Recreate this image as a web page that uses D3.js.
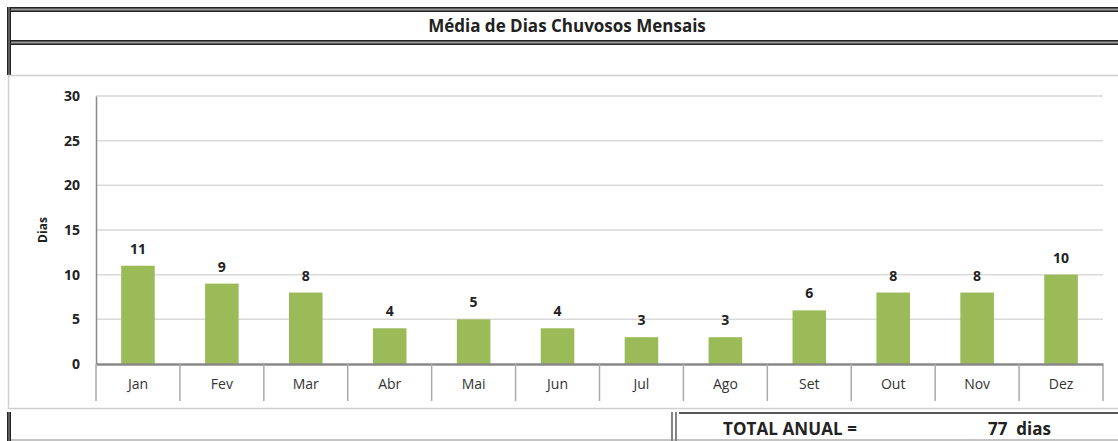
<!DOCTYPE html>
<html>
<head>
<meta charset="utf-8">
<script src="https://cdn.jsdelivr.net/npm/d3@7"></script>
<style>
  body { margin: 0; background: #fff; }
  text { font-family: "Open Sans", "Liberation Sans", sans-serif; }
</style>
</head>
<body>
<div id="chart"></div>
<script>
var svgWidth = 1118;
var svgHeight = 441;

// data
var months = ["Jan", "Fev", "Mar", "Abr", "Mai", "Jun", "Jul", "Ago", "Set", "Out", "Nov", "Dez"];
var rainyDays = [11, 9, 8, 4, 5, 4, 3, 3, 6, 8, 8, 10];
var yTicks = [0, 5, 10, 15, 20, 25, 30];
var title = "Média de Dias Chuvosos Mensais";
var totalLabel = "TOTAL ANUAL =";
var totalValue = "77  dias";

var margin = { top: 96, right: 15, bottom: 78, left: 96 };
var width = svgWidth - margin.left - margin.right;
var height = svgHeight - margin.top - margin.bottom;

var svg = d3.select("#chart")
  .append("svg")
  .attr("width", svgWidth)
  .attr("height", svgHeight);

// frame lines (spreadsheet cells)
function doubleH(y, x1, x2) {
  svg.append("rect").attr("x", x1).attr("y", y).attr("width", x2 - x1).attr("height", 5).attr("fill", "#999");
  svg.append("line").attr("x1", x1).attr("x2", x2).attr("y1", y + 0.75).attr("y2", y + 0.75).attr("stroke", "#222").attr("stroke-width", 1.5);
  svg.append("line").attr("x1", x1).attr("x2", x2).attr("y1", y + 4.25).attr("y2", y + 4.25).attr("stroke", "#222").attr("stroke-width", 1.5);
}
function doubleV(x, y1, y2) {
  svg.append("rect").attr("x", x).attr("y", y1).attr("width", 4).attr("height", y2 - y1).attr("fill", "#999");
  svg.append("line").attr("x1", x + 0.75).attr("x2", x + 0.75).attr("y1", y1).attr("y2", y2).attr("stroke", "#222").attr("stroke-width", 1.5);
  svg.append("line").attr("x1", x + 3.25).attr("x2", x + 3.25).attr("y1", y1).attr("y2", y2).attr("stroke", "#222").attr("stroke-width", 1.5);
}

doubleH(7, 7, svgWidth);
doubleH(40, 7, svgWidth);
doubleV(7, 7, 75);

// chart area border
svg.append("rect")
  .attr("x", 8.5).attr("y", 75.5)
  .attr("width", svgWidth - 6).attr("height", 333)
  .attr("fill", "none").attr("stroke", "#d0d0d0").attr("stroke-width", 1.5);

// bottom row
doubleV(7, 412, svgWidth);
svg.append("line").attr("x1", 672).attr("x2", 672).attr("y1", 412).attr("y2", 441).attr("stroke", "#333").attr("stroke-width", 1.2);
svg.append("line").attr("x1", 676).attr("x2", 676).attr("y1", 412).attr("y2", 441).attr("stroke", "#333").attr("stroke-width", 1.2);
svg.append("line").attr("x1", 679).attr("x2", svgWidth).attr("y1", 413).attr("y2", 413).attr("stroke", "#222").attr("stroke-width", 1.5);
svg.append("line").attr("x1", 11).attr("x2", svgWidth).attr("y1", 440).attr("y2", 440).attr("stroke", "#888").attr("stroke-width", 1);

svg.append("text")
  .attr("x", 567).attr("y", 32)
  .attr("text-anchor", "middle")
  .style("font-size", "17px").style("font-weight", "bold").attr("fill", "#222")
  .text(title);

svg.append("text")
  .attr("x", 723).attr("y", 435)
  .style("font-size", "17px").style("font-weight", "bold").attr("fill", "#222")
  .attr("textLength", 134)
  .text(totalLabel);
svg.append("text")
  .attr("x", 988).attr("y", 435)
  .style("font-size", "17px").style("font-weight", "bold").attr("fill", "#222")
  .attr("xml:space", "preserve")
  .text(totalValue);

var chartGroup = svg.append("g")
  .attr("transform", `translate(${margin.left}, ${margin.top})`);

var xScale = d3.scaleBand()
  .domain(months)
  .range([0, width])
  .paddingInner(0.6)
  .paddingOuter(0.3);

var xBand = d3.scaleBand().domain(months).range([0, width]);

var yScale = d3.scaleLinear()
  .domain([0, 30])
  .range([height + 1, 0]);

// gridlines
chartGroup.append("g")
  .selectAll("line")
  .data(yTicks.slice(1))
  .enter()
  .append("line")
  .attr("x1", 0).attr("x2", width)
  .attr("y1", d => yScale(d)).attr("y2", d => yScale(d))
  .attr("stroke", "#d9d9d9").attr("stroke-width", 1.5);

// y axis
var leftAxis = d3.axisLeft(yScale).tickValues(yTicks).tickSize(0).tickPadding(16);
var yAxis = chartGroup.append("g").call(leftAxis);
yAxis.select(".domain").attr("stroke", "#888").attr("stroke-width", 1.5);
yAxis.selectAll("text")
  .style("font-size", "14px").style("font-weight", "bold").attr("fill", "#222")
  .style("font-family", "'Open Sans', sans-serif");

// bars
chartGroup.selectAll(".bar")
  .data(rainyDays)
  .enter()
  .append("rect")
  .attr("class", "bar")
  .attr("x", (d, i) => xScale(months[i]))
  .attr("y", d => yScale(d))
  .attr("width", xScale.bandwidth())
  .attr("height", d => yScale(0) - yScale(d))
  .attr("fill", "#9bbb59");

// value labels
chartGroup.selectAll(".val")
  .data(rainyDays)
  .enter()
  .append("text")
  .attr("class", "val")
  .attr("x", (d, i) => xScale(months[i]) + xScale.bandwidth() / 2)
  .attr("y", d => yScale(d) - 12)
  .attr("text-anchor", "middle")
  .style("font-size", "14px").style("font-weight", "bold").attr("fill", "#222")
  .text(d => d);

// x axis
var bottomAxis = d3.axisBottom(xBand).tickSize(0).tickPadding(15);
var xAxis = chartGroup.append("g")
  .attr("transform", `translate(0, ${height + 1})`)
  .call(bottomAxis);
xAxis.select(".domain").attr("stroke", "#888").attr("stroke-width", 2.5);
xAxis.selectAll("text")
  .style("font-size", "14px").attr("fill", "#333")
  .style("font-family", "'Open Sans', sans-serif");

// category separators
xAxis.selectAll(".sep")
  .data(months.concat(["end"]))
  .enter()
  .append("line")
  .attr("class", "sep")
  .attr("x1", (d, i) => i * xBand.bandwidth())
  .attr("x2", (d, i) => i * xBand.bandwidth())
  .attr("y1", 0).attr("y2", 37)
  .attr("stroke", "#aaa").attr("stroke-width", 1.5);

// y axis title
svg.append("text")
  .attr("transform", "translate(47, 230) rotate(-90)")
  .attr("text-anchor", "middle")
  .style("font-size", "12px").style("font-weight", "bold").attr("fill", "#222")
  .text("Dias");
</script>
</body>
</html>
